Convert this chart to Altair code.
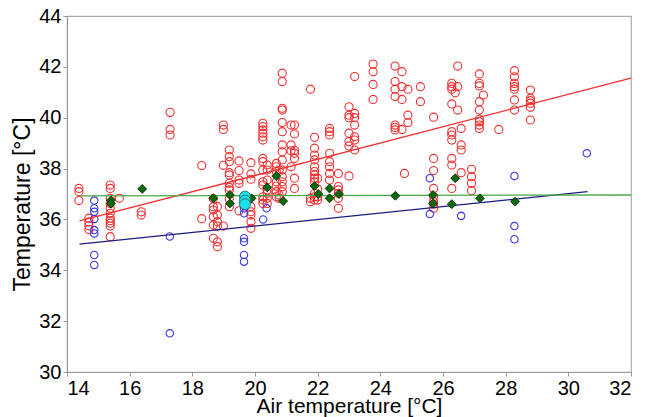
import altair as alt
import pandas as pd

# Red open circles: x column -> list of y values
red_cols = {
    14.38: [37.22, 37.09, 36.74],
    14.70: [36.05, 35.90, 35.75, 35.60],
    15.38: [37.35, 37.22, 36.83, 36.63, 36.44, 36.24, 36.05, 35.95, 35.85, 35.74, 35.32],
    15.67: [36.83],
    16.37: [36.30, 36.17],
    17.29: [40.21, 39.54, 39.32],
    18.30: [38.12, 36.03],
    18.67: [36.82, 36.50, 36.37, 36.11, 35.78, 35.26],
    18.80: [36.50, 36.17, 35.91, 35.74, 35.12, 34.93],
    18.99: [39.71, 39.54, 38.13, 35.74],
    19.18: [38.73, 38.47, 38.27, 37.84, 37.75, 37.42, 37.26, 37.16, 36.80, 36.50],
    19.49: [38.30, 37.92, 37.55, 37.42, 36.34],
    19.87: [38.23, 37.79, 37.58, 36.50, 36.30, 36.17, 35.91, 35.65],
    20.25: [39.78, 39.65, 39.52, 39.39, 39.25, 39.12, 38.40, 38.27, 37.94, 37.48, 37.35, 36.89, 36.76, 36.63],
    20.39: [38.14, 37.94, 37.55, 37.16, 37.03, 36.83, 36.63],
    20.68: [38.20, 38.07, 37.88, 37.48, 37.31, 37.09, 36.89],
    20.77: [37.94, 36.96, 36.83],
    20.87: [41.75, 41.42, 40.37, 40.30, 39.81, 39.45, 38.93, 38.66, 38.34, 37.94, 37.68, 37.48, 37.29, 37.09],
    21.15: [39.71, 38.93, 38.70, 38.07],
    21.26: [39.71, 39.36, 38.72, 38.60, 38.40, 37.62, 37.22],
    21.77: [41.12, 36.83, 36.70],
    21.90: [39.23, 38.80, 38.53, 38.34, 38.07, 37.88, 37.75, 37.62, 37.48, 37.03, 36.89, 36.76],
    22.00: [37.62, 37.20, 36.89, 36.76],
    22.38: [39.58, 39.45, 39.32, 38.60, 38.27, 38.07, 37.81, 37.55],
    22.66: [37.81, 37.29, 37.16, 37.03, 36.83, 36.44],
    23.00: [40.43, 40.10, 40.00, 39.39, 39.06, 38.89, 37.71],
    23.18: [41.62, 40.17, 40.00, 39.71, 39.25, 39.12, 38.73],
    23.77: [42.11, 41.81, 41.31, 40.72],
    24.47: [42.03, 41.42, 41.12, 40.83, 39.71, 39.62, 39.52],
    24.69: [41.81, 41.22, 40.72, 39.54],
    24.77: [37.81],
    24.88: [41.12, 40.10, 39.81],
    25.28: [41.22, 40.63],
    25.70: [40.02, 38.40, 37.92, 37.22, 36.89, 36.70, 36.60, 36.44],
    26.28: [41.35, 41.22, 41.12, 40.54, 39.45, 39.32, 39.12, 38.40, 38.14, 37.22],
    26.39: [40.98],
    26.47: [42.03, 41.22, 40.30],
    26.58: [39.58, 38.93, 38.73, 37.84],
    26.91: [37.97, 37.68, 37.42, 37.13],
    27.16: [41.72, 41.35, 41.25, 40.63, 40.30, 39.94, 39.84, 39.71, 39.58],
    27.29: [40.89],
    27.78: [39.54],
    28.28: [41.85, 41.61, 41.35, 41.22, 41.12, 40.70, 40.30],
    28.79: [41.09, 40.76, 40.67, 40.57, 40.41, 39.91],
}

blue_x = [14.87, 14.87, 14.87, 14.87, 14.87, 14.87, 14.87, 14.87, 17.28, 17.28,
          19.65, 19.65, 19.65, 19.65, 19.65, 19.65, 20.26, 20.37, 25.58, 25.58,
          26.58, 28.28, 28.28, 28.28, 30.59]
blue_y = [36.74, 36.44, 36.30, 36.02, 35.58, 35.45, 34.60, 34.21, 35.33, 31.52,
          36.44, 36.24, 35.26, 35.12, 34.60, 34.34, 36.00, 36.44, 37.62, 36.21,
          36.14, 37.71, 35.74, 35.22, 38.60]

green_x = [15.40, 15.40, 16.40, 18.67, 19.20, 19.20, 19.89, 20.39, 20.68, 20.90, 21.90,
           22.02, 22.38, 22.38, 22.68, 24.48, 25.68, 25.68, 26.28, 26.39, 27.18, 28.30]
green_y = [36.75, 36.62, 37.20, 36.83, 36.96, 36.63, 36.83, 37.26, 37.71, 36.72, 37.31,
           37.00, 37.22, 36.83, 37.00, 36.93, 36.96, 36.63, 36.60, 37.62, 36.83, 36.70]

cyan_x = [19.68, 19.68, 19.68]
cyan_y = [36.90, 36.74, 36.60]

red_line_x = [14.40, 32.00]
red_line_y = [35.94, 41.56]
blue_line_x = [14.40, 30.61]
blue_line_y = [35.03, 37.09]
green_line_x = [14.40, 32.00]
green_line_y = [36.93, 36.96]

x_ticks = [14, 16, 18, 20, 22, 24, 26, 28, 30, 32]
y_ticks = [30, 32, 34, 36, 38, 40, 42, 44]

red_df = pd.DataFrame([(x, y) for x, ys in red_cols.items() for y in ys], columns=["x", "y"])
blue_df = pd.DataFrame({"x": blue_x, "y": blue_y})
green_df = pd.DataFrame({"x": green_x, "y": green_y})
cyan_df = pd.DataFrame({"x": cyan_x, "y": cyan_y})
rl_df = pd.DataFrame({"x": red_line_x, "y": red_line_y})
bl_df = pd.DataFrame({"x": blue_line_x, "y": blue_line_y})
gl_df = pd.DataFrame({"x": green_line_x, "y": green_line_y})

xs = alt.Scale(domain=[14, 32], nice=False, zero=False)
ys = alt.Scale(domain=[30, 44], nice=False, zero=False)
xax = alt.Axis(values=x_ticks, title="Air temperature [°C]", titlePadding=-3,
               titleFontSize=21)
yax = alt.Axis(values=y_ticks, title="Temperature [°C]", titlePadding=4,
               titleFontSize=23, titleY=188)

X = alt.X("x:Q", scale=xs, axis=xax)
Y = alt.Y("y:Q", scale=ys, axis=yax)

red_pts = alt.Chart(red_df).mark_point(shape="circle", filled=False, color="#f03030",
                                        size=66, strokeWidth=1.1, opacity=1).encode(x=X, y=Y)
blue_pts = alt.Chart(blue_df).mark_point(shape="circle", filled=False, color="#3a3ae0",
                                          size=55, strokeWidth=1.1, opacity=1).encode(x=X, y=Y)
red_ln = alt.Chart(rl_df).mark_line(color="#f03030", strokeWidth=1.3).encode(x=X, y=Y)
blue_ln = alt.Chart(bl_df).mark_line(color="#1c1c80", strokeWidth=1.3).encode(x=X, y=Y)
green_ln = alt.Chart(gl_df).mark_line(color="#4aa84a", strokeWidth=1.3).encode(x=X, y=Y)
green_pts = alt.Chart(green_df).mark_point(shape="diamond", filled=True, fill="#0a6a0a",
                                            stroke="#0a200a", strokeWidth=0.8, size=80,
                                            opacity=1).encode(x=X, y=Y)
cyan_pts = alt.Chart(cyan_df).mark_point(shape="circle", filled=True, fill="#1fe0e8",
                                          stroke="#206060", strokeWidth=0.8, size=120,
                                          opacity=1).encode(x=X, y=Y)

chart = alt.layer(red_pts, blue_pts, red_ln, blue_ln, green_ln, green_pts, cyan_pts).properties(
    width=564, height=356,
    autosize=alt.AutoSizeParams(type="none"),
    padding={"left": 59, "top": 8, "right": 14, "bottom": 45},
).configure_view(stroke="#aaaaaa", strokeWidth=1.2).configure_axis(
    grid=False,
    domainColor="#999999",
    tickColor="#999999",
    tickSize=4,
    labelFont="Liberation Sans",
    labelFontSize=20,
    labelColor="#000000",
    labelPadding=2,
    titleFont="Liberation Sans",
    titleFontWeight="normal",
    titleColor="#000000",
)

chart.save("out.html", embed_options={"renderer": "svg", "actions": False})
